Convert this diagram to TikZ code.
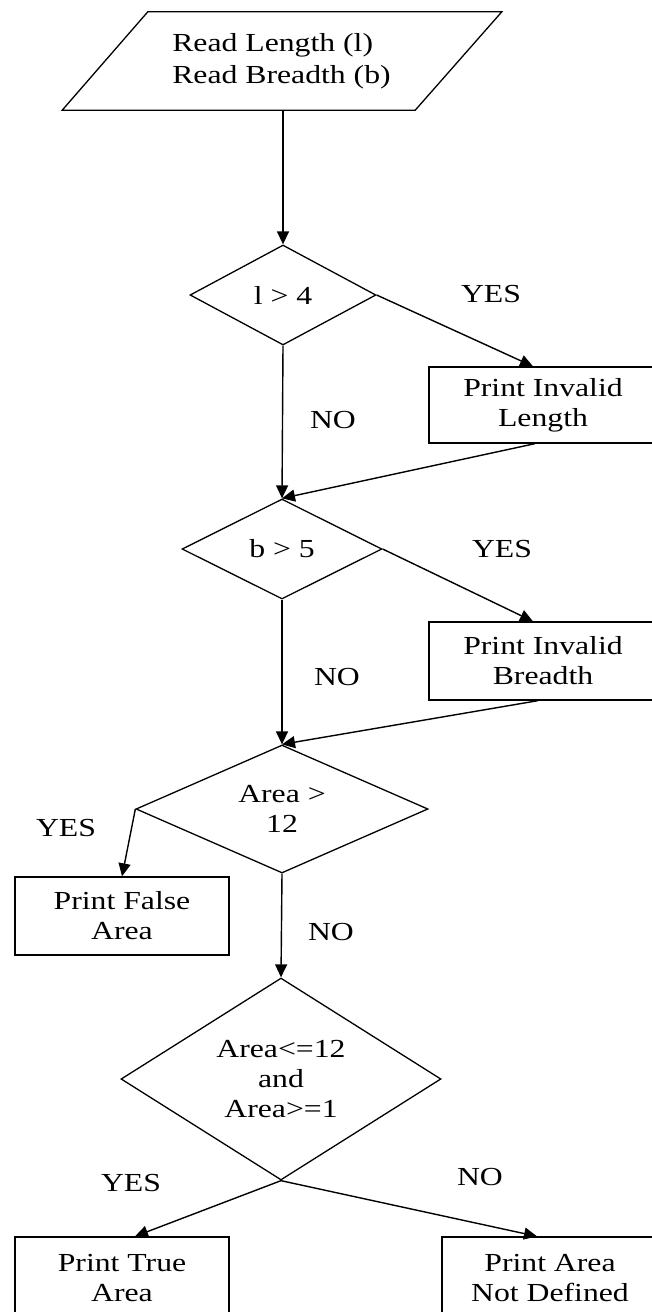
\documentclass[tikz,border=0pt]{standalone}
\usepackage{fontspec}
\setmainfont{Liberation Serif}[FakeStretch=1.22]
\usetikzlibrary{shapes.geometric,arrows.meta,positioning}

\begin{document}
\begin{tikzpicture}[x=1pt, y=-1pt,
  every node/.style={font=\fontsize{26}{30}\selectfont, text=black},
  decision/.style={diamond, draw, line width=1.3pt, inner sep=0pt, aspect=1.6, align=center},
  outbox/.style={rectangle, draw, line width=1.3pt, inner sep=0pt, align=center},
  flow/.style={line width=1.4pt, -{Triangle[width=12pt,length=13pt]}}]
  \path[use as bounding box, clip] (0,0) rectangle (652,1312);
  % Input
  \node[minimum width=267pt, minimum height=98pt, inner sep=0pt, align=left,
        font=\fontsize{26}{32}\selectfont] (read) at (281.5,61) {Read Length (l)\\Read Breadth (b)};
  \draw[line width=1.3pt] (read.north west) -- ++(354,0) -- (read.south east) -- ++(-353,0) -- cycle;
  % Decisions
  \node[decision, minimum width=186pt, minimum height=100pt] (lcheck) at (283,295) {l > 4};
  \node[decision, minimum width=200pt, minimum height=100pt] (bcheck) at (282,549) {b > 5};
  \node[decision, minimum width=292pt, minimum height=128pt] (acheck) at (282,809) {Area >\\12};
  \node[decision, minimum width=320pt, minimum height=202pt] (rcheck) at (281,1079) {Area<=12\\and\\Area>=1};
  % Outputs
  \node[outbox, minimum width=228pt, minimum height=76pt] (invlen) at (543,405) {Print Invalid\\Length};
  \node[outbox, minimum width=228pt, minimum height=78pt] (invbr) at (543,661) {Print Invalid\\Breadth};
  \node[outbox, minimum width=214pt, minimum height=78pt] (falsearea) at (122,916) {Print False\\Area};
  \node[outbox, minimum width=214pt, minimum height=82pt] (truearea) at (122,1278) {Print True\\Area};
  \node[outbox, minimum width=216pt, minimum height=82pt] (undef) at (550,1278) {Print Area\\Not Defined};
  % Labels
  \node (yes1) at (491,294) {YES};
  \node (no1) at (333,420) {NO};
  \node (yes2) at (502,549) {YES};
  \node (no2) at (337,677) {NO};
  \node (yes3) at (66,828) {YES};
  \node (no3) at (331,932) {NO};
  \node (yes4) at (131,1183) {YES};
  \node (no4) at (480,1177) {NO};
  % Flow lines
  \draw[flow] (read.south -| lcheck.north) -- (lcheck.north);
  \draw[flow] (lcheck.east) -- ([xshift=-10pt]invlen.north);
  \draw[flow] (lcheck.south) -- (bcheck.north);
  \draw[flow] ([xshift=-8pt]invlen.south) -- (bcheck.north);
  \draw[flow] (bcheck.east) -- ([xshift=-10pt]invbr.north);
  \draw[flow] (bcheck.south) -- (acheck.north);
  \draw[flow] ([xshift=-5pt]invbr.south) -- (acheck.north);
  \draw[flow] (acheck.west) -- (falsearea.north);
  \draw[flow] (acheck.south) -- (rcheck.north);
  \draw[flow] (rcheck.south) -- ([xshift=13pt]truearea.north);
  \draw[flow] (rcheck.south) -- ([xshift=-13pt]undef.north);
\end{tikzpicture}
\end{document}
